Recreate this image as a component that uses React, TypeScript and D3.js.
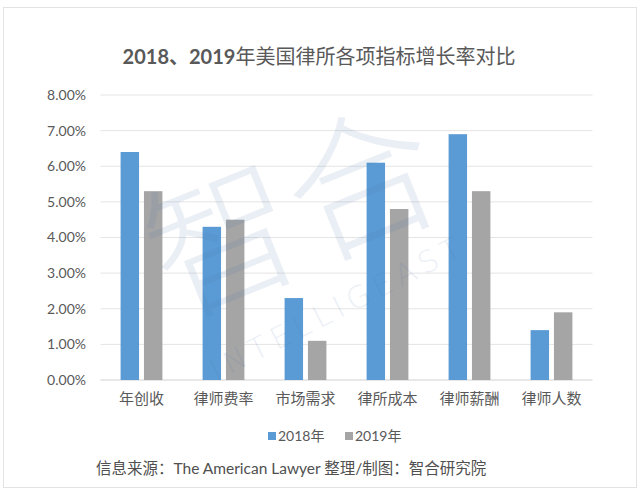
import React from "react";
import { scaleBand, scaleLinear } from "d3";

// categories and the two series
const categories = ["年创收", "律师费率", "市场需求", "律所成本", "律师薪酬", "律师人数"];
const seriesKeys = ["2018年", "2019年"];
const values2018 = [6.4, 4.3, 2.3, 6.1, 6.9, 1.4];
const values2019 = [5.3, 4.5, 1.1, 4.8, 5.3, 1.9];
const yTicks = [0, 1, 2, 3, 4, 5, 6, 7, 8];

const colors = { "2018年": "#5B9BD5", "2019年": "#A5A5A5" };
const cjk = "'Noto Sans CJK SC', 'Noto Sans', sans-serif";
const latin = "Lato, 'Noto Sans CJK SC', sans-serif";

export default function App() {
  const width = 640;
  const height = 492;

  // plot area
  const left = 100.5;
  const right = 592.5;
  const top = 95;
  const bottom = 380;

  const x0 = scaleBand().domain(categories).range([left, right]);
  // inner scale: bars sit in the middle of each category slot
  const x1 = scaleBand()
    .domain(seriesKeys)
    .range([x0.bandwidth() * 0.245, x0.bandwidth() * 0.755])
    .paddingInner(0.21);
  const y = scaleLinear().domain([0, 8]).range([bottom, top]);

  const rows = categories.map((c, i) => ({
    cat: c,
    "2018年": values2018[i],
    "2019年": values2019[i],
  }));

  return (
    <svg
      width={width}
      height={height}
      style={{ position: "absolute", left: 0, top: 0, background: "#fff" }}
    >
      {/* outer frame */}
      <rect x={3.5} y={7.5} width={633} height={480} fill="#fff" stroke="#e3e3e3" />

      {/* title */}
      <text x={319} y={64} textAnchor="middle" fontSize={20} fill="#595959" fontFamily={cjk}>
        <tspan fontWeight="bold" fontFamily={latin}>2018、2019</tspan>
        <tspan>年美国律所各项指标增长率对比</tspan>
      </text>

      {/* grid + y ticks */}
      {yTicks.map((t) => (
        <g key={t}>
          <line x1={left} x2={right} y1={y(t)} y2={y(t)} stroke={t === 0 ? "#d0d0d0" : "#e4e4e4"} />
          <text
            x={86}
            y={y(t)}
            dy="0.35em"
            textAnchor="end"
            fontSize={14}
            fill="#595959"
            fontFamily={latin}
          >
            {t.toFixed(2)}%
          </text>
        </g>
      ))}

      {/* bars */}
      {rows.map((r) => (
        <g key={r.cat} transform={`translate(${x0(r.cat)},0)`}>
          {seriesKeys.map((k) => (
            <rect
              key={k}
              x={x1(k)}
              width={x1.bandwidth()}
              y={y(r[k])}
              height={y(0) - y(r[k])}
              fill={colors[k]}
            />
          ))}
        </g>
      ))}

      {/* watermark */}
      <g opacity={0.1} fill="#3f6fa8" pointerEvents="none">
        <text
          x={300}
          y={265}
          textAnchor="middle"
          fontSize={150}
          fontFamily={cjk}
          fontWeight="300"
          transform="rotate(-22 300 230)"
        >
          智合
        </text>
        <text
          x={338}
          y={318}
          textAnchor="middle"
          fontSize={30}
          letterSpacing={6}
          fontFamily="'DejaVu Sans', sans-serif"
          fontWeight="300"
          transform="rotate(-27 338 308)"
        >
          INTELLIGEAST
        </text>
      </g>

      {/* category labels */}
      {categories.map((c) => (
        <text
          key={c}
          x={x0(c) + x0.bandwidth() / 2}
          y={404}
          textAnchor="middle"
          fontSize={15}
          fill="#595959"
          fontFamily={cjk}
        >
          {c}
        </text>
      ))}

      {/* legend */}
      {seriesKeys.map((k, i) => {
        const lx = 268 + i * 77;
        return (
          <g key={k}>
            <rect x={lx} y={432} width={8} height={8} fill={colors[k]} />
            <text x={lx + 10} y={441} fontSize={14} fill="#595959" fontFamily={latin}>
              {k}
            </text>
          </g>
        );
      })}

      {/* source */}
      <text x={96} y={474} fontSize={15.5} fill="#505050" fontFamily={latin}>
        信息来源：The American Lawyer 整理/制图：智合研究院
      </text>
    </svg>
  );
}
